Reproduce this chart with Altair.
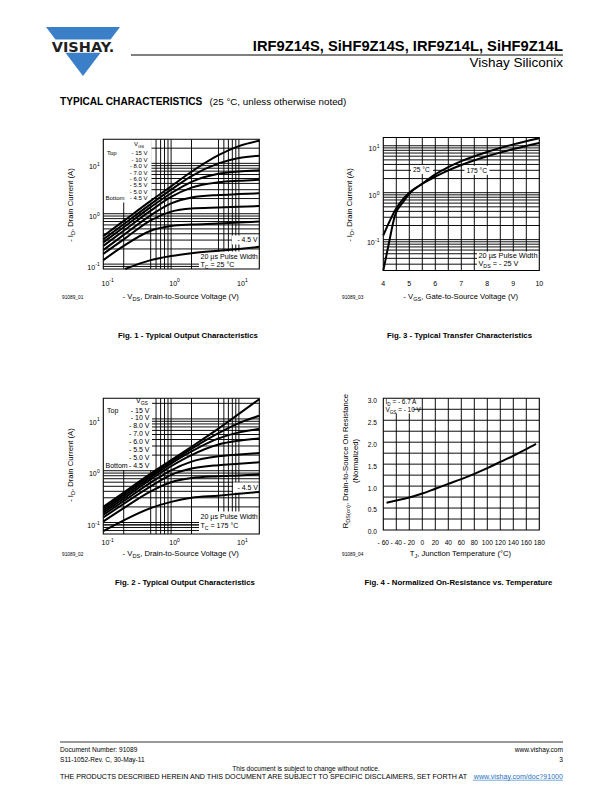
import altair as alt
import pandas as pd

FONT = "Liberation Sans"
M = 8  # page margin of the html body

# ---------------------------------------------------------------- data
# Fig. 1 - output characteristics, TC = 25 C  (-VDS in V, -ID in A)
vds = [0.1, 0.2, 0.5, 1, 2, 5, 10, 20]
fig1_15v = [0.36, 0.72, 1.8, 3.5, 6.8, 14.5, 22, 28]
fig1_10v = [0.31, 0.62, 1.55, 3.0, 5.6, 10.0, 12.8, 14.2]
fig1_8v = [0.27, 0.54, 1.35, 2.55, 4.3, 6.2, 6.9, 7.3]
fig1_7v = [0.23, 0.46, 1.15, 2.15, 3.3, 4.2, 4.5, 4.7]
fig1_6v = [0.19, 0.38, 0.93, 1.6, 2.1, 2.35, 2.45, 2.55]
fig1_55v = [0.16, 0.31, 0.74, 1.1, 1.27, 1.33, 1.37, 1.42]
fig1_5v = [0.12, 0.23, 0.46, 0.57, 0.61, 0.64, 0.67, 0.7]
fig1_45v_vds = [0.21, 0.5, 1, 2, 5, 10, 20]
fig1_45v = [0.08, 0.12, 0.145, 0.165, 0.185, 0.2, 0.22]

# Fig. 2 - output characteristics, TC = 175 C
fig2_15v = [0.2, 0.38, 0.88, 1.6, 2.9, 6.5, 12.5, 24]
fig2_10v = [0.185, 0.35, 0.82, 1.5, 2.65, 5.3, 8.3, 11.5]
fig2_8v = [0.17, 0.32, 0.75, 1.37, 2.35, 4.2, 5.5, 6.4]
fig2_7v = [0.155, 0.29, 0.68, 1.22, 2.0, 3.2, 3.8, 4.2]
fig2_6v = [0.14, 0.26, 0.59, 1.02, 1.5, 1.9, 2.05, 2.2]
fig2_55v = [0.125, 0.23, 0.5, 0.83, 1.1, 1.28, 1.36, 1.45]
fig2_5v = [0.105, 0.19, 0.4, 0.6, 0.72, 0.78, 0.81, 0.85]
fig2_45v = [0.068, 0.11, 0.19, 0.25, 0.3, 0.33, 0.36, 0.39]

# Fig. 3 - transfer characteristics (-VGS in V, -ID in A)
fig3_vgs_25 = [4.0, 4.2, 4.45, 4.75, 5.0, 5.5, 6.0, 6.5, 7.0, 8.0, 9.0, 10.0]
fig3_id_25 = [0.022, 0.076, 0.33, 0.62, 0.95, 1.55, 2.45, 3.5, 4.7, 7.4, 10.7, 14.5]
fig3_vgs_175 = [4.0, 4.2, 4.45, 4.75, 5.0, 5.5, 6.0, 6.5, 7.0, 8.0, 9.0, 10.0]
fig3_id_175 = [0.123, 0.22, 0.42, 0.72, 1.0, 1.55, 2.2, 3.0, 3.9, 6.0, 8.5, 11.5]

# Fig. 4 - normalized on-resistance vs. junction temperature
fig4_tj = [-55, -40, -20, 0, 20, 40, 60, 80, 100, 120, 140, 160, 175]
fig4_rds = [0.62, 0.67, 0.74, 0.83, 0.94, 1.05, 1.16, 1.28, 1.41, 1.55, 1.69, 1.84, 1.96]

# grids and ticks
fig12_xgrid = [0.2, 0.5, 0.6, 0.7, 0.8, 0.9, 1, 2, 5, 6, 7, 8, 9, 10]
fig1_ygrid = [0.09, 0.1, 0.2, 0.3, 0.4, 0.5, 0.6, 0.7, 0.8, 0.9, 1, 2, 3, 4, 5, 6, 7, 8, 9, 10, 20]
fig2_ygrid = [0.07, 0.08, 0.09] + fig1_ygrid
fig3_xgrid = [4.5, 5.0, 5.5, 6.0, 6.5, 7.0, 7.5, 8.0, 8.5, 9.0, 9.5]
fig3_ygrid = [0.03, 0.04, 0.05, 0.06, 0.07, 0.08, 0.09, 0.1, 0.2, 0.3, 0.4, 0.5, 0.6, 0.7,
              0.8, 0.9, 1, 2, 3, 4, 5, 6, 7, 8, 9, 10]
fig4_xgrid = [-40, -20, 0, 20, 40, 60, 80, 100, 120, 140, 160]
fig4_ygrid = [0.25, 0.5, 0.75, 1.0, 1.25, 1.5, 1.75, 2.0, 2.25, 2.5, 2.75]
log_ticks = [0.1, 1, 10]
log_exps = ["-1", "0", "1"]
fig3_xticks = [4, 5, 6, 7, 8, 9, 10]
fig4_xticks = [-60, -40, -20, 0, 20, 40, 60, 80, 100, 120, 140, 160, 180]
fig4_yticks = [0.0, 0.5, 1.0, 1.5, 2.0, 2.5, 3.0]
vgs_legend = ["- 15 V", "- 10 V", "- 8.0 V", "- 7.0 V", "- 6.0 V", "- 5.5 V", "- 5.0 V", "- 4.5 V"]

# ---------------------------------------------------------------- helpers
ONE = pd.DataFrame({"k": [0]})
W = {' ': 278, ',': 278, '-': 333, '.': 278, '(': 333, ')': 333, '=': 584, ':': 278, '?': 556,
     '/': 278, '°': 400, 'µ': 556, '_': 556,
     'A': 667, 'B': 667, 'C': 722, 'D': 722, 'E': 667, 'F': 611, 'G': 778, 'H': 722, 'I': 278,
     'J': 500, 'K': 667, 'L': 556, 'M': 833, 'N': 722, 'O': 778, 'P': 667, 'Q': 778, 'R': 722,
     'S': 667, 'T': 611, 'U': 722, 'V': 667, 'W': 944, 'X': 667, 'Y': 667, 'Z': 611,
     'a': 556, 'b': 556, 'c': 500, 'd': 556, 'e': 556, 'f': 278, 'g': 556, 'h': 556, 'i': 222,
     'j': 222, 'k': 500, 'l': 222, 'm': 833, 'n': 556, 'o': 556, 'p': 556, 'q': 556, 'r': 333,
     's': 500, 't': 278, 'u': 556, 'v': 500, 'w': 722, 'x': 500, 'y': 500, 'z': 500}

GRID_W = 0.95
CURVE_W = 2.0
TICK = 7.0
SUP = 5.0


def tw(s, size):
    return sum(W.get(ch, 556) for ch in s) * size / 1000.0


def txt(x, y, s, size=7.0, align="left", baseline="alphabetic", angle=0, weight="normal",
        color="black", font=FONT):
    kw = dict(text=s, fontSize=size, align=align, baseline=baseline, font=font, color=color,
              fontWeight=weight)
    if angle:
        kw["angle"] = angle
    return alt.Chart(ONE).mark_text(**kw).encode(x=alt.value(x - M), y=alt.value(y - M))


def rich(x, y, parts, size, anchor="left", angle=0):
    """text with sub/superscripts. parts: list of (text, kind) kind '', 'sub', 'sup'"""
    sizes = [size * (0.72 if k else 1.0) for _, k in parts]
    widths = [tw(t, s) for (t, _), s in zip(parts, sizes)]
    total = sum(widths)
    pos = {"left": 0.0, "center": -total / 2.0, "right": -total}[anchor]
    out = []
    for (t, k), s, w in zip(parts, sizes, widths):
        lead = len(t) - len(t.lstrip(" "))
        p = pos + lead * 0.278 * s
        shift = size * 0.3 if k == "sub" else (-size * 0.4 if k == "sup" else 0.0)
        if angle == 270:
            out.append(txt(x + shift, y - p, t.strip(), s, angle=270))
        else:
            out.append(txt(x + p, y + shift, t.strip(), s))
        pos += w
    return out


def hrule(x0, x1, y, w=1.0, color="black"):
    return alt.Chart(ONE).mark_rule(color=color, strokeWidth=w).encode(
        x=alt.value(x0 - M), x2=alt.value(x1 - M), y=alt.value(y - M))


def box(x0, x1, y0, y1, color="white"):
    return alt.Chart(ONE).mark_rect(color=color).encode(
        x=alt.value(x0 - M), x2=alt.value(x1 - M), y=alt.value(y0 - M), y2=alt.value(y1 - M))


def scale(dom, lo, hi, typ):
    return alt.Scale(type=typ, domain=dom, range=[lo - M, hi - M], nice=False, zero=False)


def curves_df(items):
    rows = []
    for name, xv, yv in items:
        for a, b in zip(xv, yv):
            rows.append({"c": name, "x": a, "y": b})
    return pd.DataFrame(rows)


def panel(frame, xdom, ydom, xtyp, ytyp, xgrid, ygrid, curves, boxes, extra):
    left, right, top, bottom = frame
    xs = scale(xdom, left, right, xtyp)
    ys = scale(ydom, bottom, top, ytyp)
    X = lambda f: alt.X(f, scale=xs, axis=None)
    Y = lambda f: alt.Y(f, scale=ys, axis=None)
    layers = [
        alt.Chart(pd.DataFrame({"g": xgrid})).mark_rule(color="black", strokeWidth=GRID_W).encode(
            x=X("g:Q"), y=alt.YDatum(ydom[0], scale=ys, axis=None), y2=alt.Y2Datum(ydom[1])),
        alt.Chart(pd.DataFrame({"g": ygrid})).mark_rule(color="black", strokeWidth=GRID_W).encode(
            y=Y("g:Q"), x=alt.XDatum(xdom[0], scale=xs, axis=None), x2=alt.X2Datum(xdom[1])),
    ]
    layers += [box(*b) for b in boxes]
    layers.append(
        alt.Chart(curves).mark_line(color="black", strokeWidth=CURVE_W, interpolate="monotone").encode(
            x=X("x:Q"), y=Y("y:Q"), detail="c:N", order="x:Q"))
    layers.append(
        alt.Chart(ONE).mark_rect(fillOpacity=0, stroke="black", strokeWidth=1.1).encode(
            x=alt.XDatum(xdom[0], scale=xs, axis=None), x2=alt.X2Datum(xdom[1]),
            y=alt.YDatum(ydom[0], scale=ys, axis=None), y2=alt.Y2Datum(ydom[1])))
    layers += extra(xs, ys)
    return alt.layer(*layers)


def log_xticks(xs, yb):
    df = pd.DataFrame({"v": log_ticks, "e": log_exps, "b": ["10"] * 3})
    base = alt.Chart(df).mark_text(fontSize=TICK, font=FONT, align="left", dx=-1.8).encode(
        x=alt.X("v:Q", scale=xs, axis=None), y=alt.value(yb - M), text="b:N")
    sup = alt.Chart(df).mark_text(fontSize=SUP, font=FONT, align="left", dx=-1.8 + tw("10", TICK)).encode(
        x=alt.X("v:Q", scale=xs, axis=None), y=alt.value(yb - 3.2 - M), text="e:N")
    return [base, sup]


def log_yticks(ys, xr, ticks=log_ticks, exps=log_exps):
    out = []
    for v, e in zip(ticks, exps):
        ew = tw(e, SUP)
        out.append(alt.Chart(ONE).mark_text(fontSize=SUP, font=FONT, align="right", dy=0.3).encode(
            x=alt.value(xr - M), y=alt.YDatum(v, scale=ys, axis=None), text=alt.value(e)))
        out.append(alt.Chart(ONE).mark_text(fontSize=TICK, font=FONT, align="right", dy=3.6).encode(
            x=alt.value(xr - ew - 0.3 - M), y=alt.YDatum(v, scale=ys, axis=None), text=alt.value("10")))
    return out


def legend_texts(x_top, x_right, y_hdr, ys_lines, size):
    out = rich(x_right - 13.5, y_hdr, [("V", ""), ("GS", "sub")], size)
    out.append(txt(x_top, ys_lines[0], "Top", size))
    out.append(txt(x_top - 1.5, ys_lines[-1], "Bottom", size))
    for lab, yy in zip(vgs_legend, ys_lines):
        out.append(txt(x_right, yy, lab, size, align="right"))
    return out


layers = []

# ---------------------------------------------------------------- Fig. 1
f1 = (103.3, 259.3, 139.3, 269.0)
df1 = curves_df([("15", vds, fig1_15v), ("10", vds, fig1_10v), ("8", vds, fig1_8v),
                 ("7", vds, fig1_7v), ("6", vds, fig1_6v), ("5.5", vds, fig1_55v),
                 ("5", vds, fig1_5v), ("4.5", fig1_45v_vds, fig1_45v)])


def extra1(xs, ys):
    out = log_xticks(xs, 283.5) + log_yticks(ys, 99.8)
    n = len(vgs_legend)
    out += legend_texts(107, 147.5, 146.3, [155.3 + i * (200.3 - 155.3) / (n - 1) for i in range(n)], 6.0)
    out.append(txt(257.5, 242.3, "- 4.5 V", 6.8, align="right"))
    out.append(txt(200.5, 259.3, "20 µs Pulse Width", 7.1))
    out += rich(200.5, 267.3, [("T", ""), ("C", "sub"), (" = 25 °C", "")], 7.1)
    return out


layers.append(panel(f1, [0.1, 20], [0.08, 30], "log", "log", fig12_xgrid, fig1_ygrid, df1,
                    [(103.3, 151.5, 139.3, 202.5), (232, 259.3, 235.5, 244.5), (199, 259.3, 251.5, 269)],
                    extra1))

# ---------------------------------------------------------------- Fig. 2
f2 = (103.3, 259.3, 398.3, 534.0)
df2 = curves_df([("15", vds, fig2_15v), ("10", vds, fig2_10v), ("8", vds, fig2_8v),
                 ("7", vds, fig2_7v), ("6", vds, fig2_6v), ("5.5", vds, fig2_55v),
                 ("5", vds, fig2_5v), ("4.5", vds, fig2_45v)])


def extra2(xs, ys):
    out = log_xticks(xs, 543) + log_yticks(ys, 99.8)
    n = len(vgs_legend)
    out += legend_texts(107, 149.5, 402.5, [412.5 + i * (467.5 - 412.5) / (n - 1) for i in range(n)], 7.0)
    out.append(txt(258, 489.8, "- 4.5 V", 7.0, align="right"))
    out.append(txt(200.5, 519.3, "20 µs Pulse Width", 7.1))
    out += rich(200.5, 528.3, [("T", ""), ("C", "sub"), (" = 175 °C", "")], 7.1)
    return out


layers.append(panel(f2, [0.1, 20], [0.06, 25], "log", "log", fig12_xgrid, fig2_ygrid, df2,
                    [(103.3, 152, 398.3, 470), (233, 259.3, 482.5, 492.5), (199, 259.3, 511.5, 534)],
                    extra2))

# ---------------------------------------------------------------- Fig. 3
f3 = (383.3, 539.3, 137.5, 270.5)
df3 = curves_df([("25", fig3_vgs_25, fig3_id_25), ("175", fig3_vgs_175, fig3_id_175)])


def extra3(xs, ys):
    df = pd.DataFrame({"v": fig3_xticks, "t": [str(v) for v in fig3_xticks]})
    out = [alt.Chart(df).mark_text(fontSize=TICK, font=FONT, align="center").encode(
        x=alt.X("v:Q", scale=xs, axis=None), y=alt.value(283.5 - M), text="t:N")]
    out += log_yticks(ys, 379.5)
    out.append(txt(413, 171.8, "25 °C", 6.7))
    out.append(txt(466.5, 172.5, "175 °C", 6.7))
    out.append(txt(478.5, 258.3, "20 µs Pulse Width", 7.3))
    out += rich(478.5, 266.3, [("V", ""), ("DS", "sub"), (" = - 25 V", "")], 7.3)
    return out


layers.append(panel(f3, [4, 10], [0.022, 15], "linear", "log", fig3_xgrid, fig3_ygrid, df3,
                    [(411, 433, 165, 174), (464.5, 489.5, 165.8, 174.8), (477, 539.3, 251.5, 270.5)],
                    extra3))

# ---------------------------------------------------------------- Fig. 4
f4 = (383.3, 539.3, 398.3, 530.0)
df4 = curves_df([("r", fig4_tj, fig4_rds)])


def extra4(xs, ys):
    dx = pd.DataFrame({"v": fig4_xticks,
                       "t": [("- " + str(-v)) if v < 0 else str(v) for v in fig4_xticks]})
    dy = pd.DataFrame({"v": fig4_yticks, "t": ["%.1f" % v for v in fig4_yticks]})
    out = [alt.Chart(dx).mark_text(fontSize=6.6, font=FONT, align="center").encode(
               x=alt.X("v:Q", scale=xs, axis=None), y=alt.value(542.5 - M), text="t:N"),
           alt.Chart(dy).mark_text(fontSize=6.6, font=FONT, align="right", dy=2.4).encode(
               x=alt.value(377 - M), y=alt.Y("v:Q", scale=ys, axis=None), text="t:N")]
    out += rich(385.5, 404.3, [("I", ""), ("D", "sub"), (" = - 6.7 A", "")], 6.4)
    out += rich(385.5, 411.8, [("V", ""), ("GS", "sub"), (" = - 10 V", "")], 6.4)
    return out


layers.append(panel(f4, [-60, 180], [0, 3], "linear", "linear", fig4_xgrid, fig4_ygrid, df4,
                    [(383.3, 413.5, 398.3, 413.5)], extra4))

# ---------------------------------------------------------------- axis titles
AT = 7.7
layers += rich(181, 298.5, [("- V", ""), ("DS", "sub"), (", Drain-to-Source Voltage (V)", "")], AT, "center")
layers += rich(461, 298.5, [("- V", ""), ("GS", "sub"), (", Gate-to-Source Voltage (V)", "")], AT, "center")
layers += rich(181, 555.5, [("- V", ""), ("DS", "sub"), (", Drain-to-Source Voltage (V)", "")], AT, "center")
layers += rich(461, 555.5, [("T", ""), ("J", "sub"), (", Junction Temperature (°C)", "")], AT, "center")
layers += rich(72.8, 205, [("- I", ""), ("D", "sub"), (", Drain Current (A)", "")], AT, "center", 270)
layers += rich(352, 205, [("- I", ""), ("D", "sub"), (", Drain Current (A)", "")], AT, "center", 270)
layers += rich(72.8, 465, [("- I", ""), ("D", "sub"), (", Drain Current (A)", "")], AT, "center", 270)
layers += rich(348, 461, [("R", ""), ("DS(on)", "sub"), (", Drain-to-Source On Resistance", "")], AT,
               "center", 270)
layers.append(txt(358, 461, "(Normalized)", AT, align="center", angle=270))

for xx, yy, s in [(62, 299, "91089_01"), (342, 299, "91089_03"), (62, 555.5, "91089_02"),
                  (342, 555.5, "91089_04")]:
    layers.append(txt(xx, yy, s, 4.8))

# captions
CAP = 7.8
layers.append(txt(188, 337.8, "Fig. 1 - Typical Output Characteristics", CAP, "center", weight="bold"))
layers.append(txt(459.5, 337.8, "Fig. 3 - Typical Transfer Characteristics", CAP, "center", weight="bold"))
layers.append(txt(185, 585, "Fig. 2 - Typical Output Characteristics", CAP, "center", weight="bold"))
layers.append(txt(458.5, 585, "Fig. 4 - Normalized On-Resistance vs. Temperature", CAP, "center",
                  weight="bold"))

# ---------------------------------------------------------------- header
layers.append(alt.Chart(ONE).mark_point(
    shape="M-1,-0.662L1,-0.662L0,0.662Z", size=74 * 74, filled=True, color="#3a7fc8", opacity=1,
    strokeWidth=0).encode(x=alt.value(83 - M), y=alt.value(51.5 - M)))
layers.append(box(42, 124, 39.5, 52.8))
layers.append(txt(83, 51.6, "VISHAY.", 14.5, "center", weight="bold", color="#231f20", font="DejaVu Sans"))
layers.append(txt(563, 50.5, "IRF9Z14S, SiHF9Z14S, IRF9Z14L, SiHF9Z14L", 14.7, "right", weight="bold"))
layers.append(hrule(131, 563, 55, 1.0))
layers.append(txt(563, 67, "Vishay Siliconix", 13.5, "right"))
layers.append(txt(60, 104.5, "TYPICAL CHARACTERISTICS", 10.1, weight="bold"))
layers.append(txt(209.5, 104.5, "(25 °C, unless otherwise noted)", 9.8))

# ---------------------------------------------------------------- footer
FT = 6.6
layers.append(hrule(60, 563, 742, 0.8))
layers.append(txt(60, 751.5, "Document Number: 91089", FT))
layers.append(txt(60, 761.5, "S11-1052-Rev. C, 30-May-11", FT))
layers.append(txt(563, 751.5, "www.vishay.com", FT, "right"))
layers.append(txt(563, 761.5, "3", FT, "right"))
layers.append(txt(306, 771, "This document is subject to change without notice.", FT, "center"))
disc = "THE PRODUCTS DESCRIBED HEREIN AND THIS DOCUMENT ARE SUBJECT TO SPECIFIC DISCLAIMERS, SET FORTH AT"
link = "www.vishay.com/doc?91000"
dsize = 503.0 / (tw(disc + " " + link, 1.0))
layers.append(txt(60, 779, disc, dsize))
layers.append(txt(563, 779, link, dsize, "right", color="#1f6fc0"))
layers.append(hrule(563 - tw(link, dsize), 563, 780.2, 0.6, "#1f6fc0"))

chart = alt.layer(*layers).resolve_scale(x="independent", y="independent").properties(
    width=596, height=776, padding=0, autosize=alt.AutoSizeParams(type="none")
).configure_view(stroke=None)

chart.save("out.html", embed_options={"renderer": "svg", "actions": False})
